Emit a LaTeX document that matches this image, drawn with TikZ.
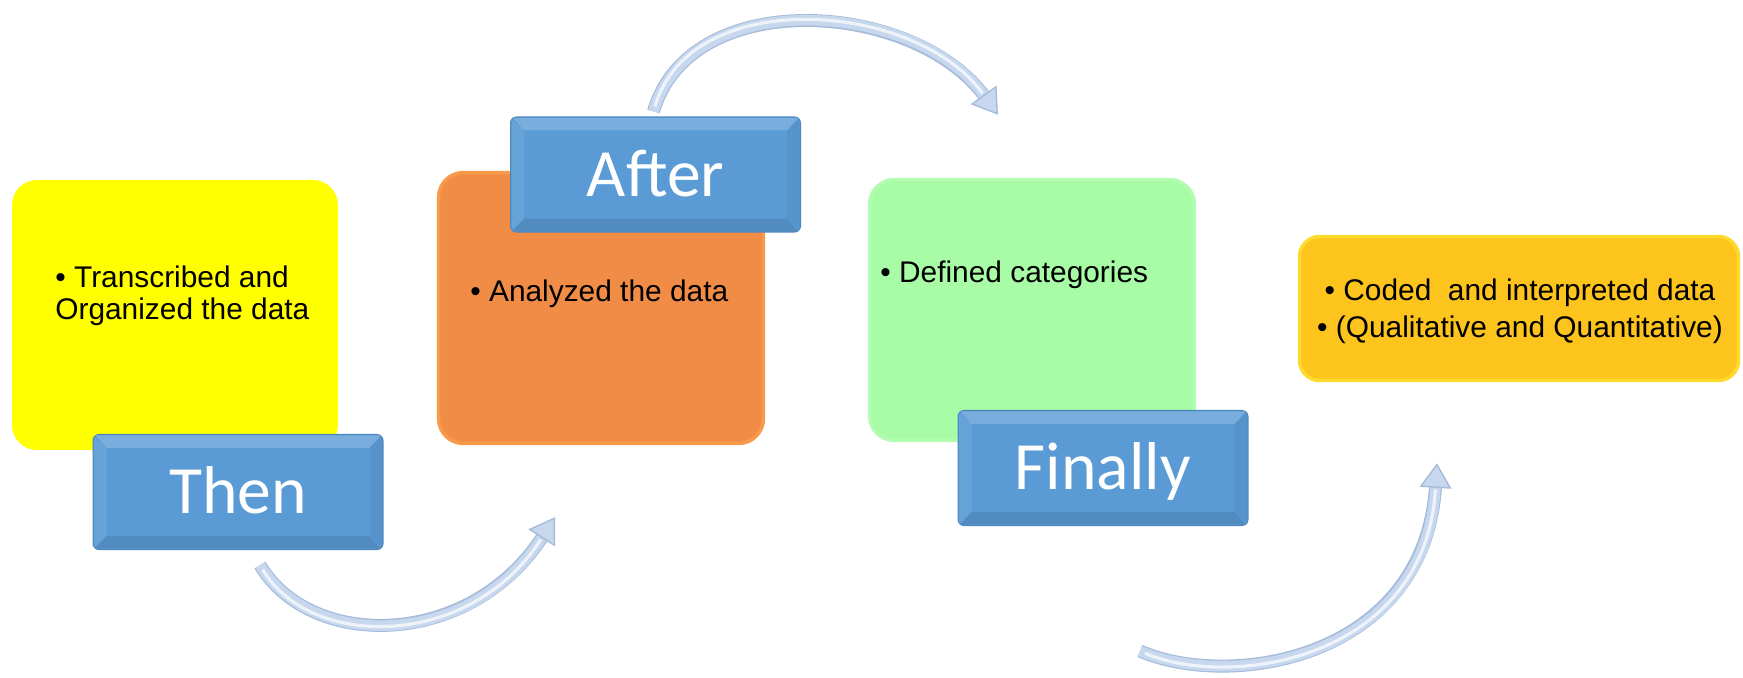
\documentclass[tikz,border=0pt]{standalone}
\usepackage{fontspec}
\setmainfont{Liberation Sans}
\newfontfamily\labelfont{Carlito}
\usetikzlibrary{arrows.meta}

\definecolor{cardyellow}{HTML}{FFFF00}
\definecolor{cardorange}{HTML}{F08C46}
\definecolor{cardorangeedge}{HTML}{F99A4A}
\definecolor{cardgreen}{HTML}{A8FCA6}
\definecolor{cardgreenedge}{HTML}{B2FDB0}
\definecolor{cardgold}{HTML}{FCC41C}
\definecolor{cardgoldedge}{HTML}{FDDA2C}
\definecolor{tagblue}{HTML}{5B9BD5}
\definecolor{tagedge}{HTML}{4D86BE}
\definecolor{flowblue}{HTML}{C6D7EE}
\definecolor{flowedge}{HTML}{A6BCDA}
\definecolor{flowlight}{HTML}{EEF3FA}

\tikzset{
  card/.style={rectangle, rounded corners=0.5cm, inner sep=0pt},
  tagbox/.style={rectangle, rounded corners=0.12cm, fill=tagblue, draw=tagedge,
    line width=0.6pt, minimum width=5.8cm, minimum height=2.3cm, text=white,
    font=\labelfont\fontsize{38.5}{40}\selectfont, text height=0.88cm, text depth=0pt},
  bullets/.style={inner sep=0pt, font=\fontsize{17}{18.2}\selectfont},
  flow/.style={line width=6pt, draw=flowblue,
    -{Triangle[length=14pt, width=18pt, fill=flowblue, color=flowedge, line width=0.8pt]},
    preaction={draw=flowedge, line width=7.4pt, -, shorten >=12pt},
    postaction={draw=flowlight, line width=1.8pt, -, shorten >=15pt, shorten <=3pt}}
}

\begin{document}
\begin{tikzpicture}[x=0.02cm, y=-0.02cm]
  \useasboundingbox (0,0) rectangle (1743,678);

  % Draw the four step cards
  \node[card, fill=cardyellow, minimum width=6.52cm, minimum height=5.4cm] (transcribed) at (175,315) {};
  \node[card, fill=cardorange, draw=cardorangeedge, line width=2pt,
    minimum width=6.5cm, minimum height=5.42cm] (analyzed) at (601,308) {};
  \node[card, fill=cardgreen, draw=cardgreenedge, line width=2pt,
    minimum width=6.5cm, minimum height=5.22cm] (defined) at (1032,310) {};
  \node[card, fill=cardgold, draw=cardgoldedge, line width=2pt, rounded corners=0.4cm,
    minimum width=8.78cm, minimum height=2.88cm] (coded) at (1519,308.5) {};

  % Bullet texts inside the cards
  \node[bullets, anchor=north west, align=left] (txtone) at (55,266) {• Transcribed and\\Organized the data};
  \node[bullets, anchor=base west] (txttwo) at (470,302) {• Analyzed the data};
  \node[bullets, anchor=base west] (txtthree) at (880,283) {• Defined categories};
  \node[bullets, anchor=north, align=center, font=\fontsize{17}{21}\selectfont] (txtfour) at (1520,279)
    {• Coded\ \ and interpreted data\\• (Qualitative and Quantitative)};

  % The blue tags on top of the cards
  \node[tagbox] (then) at (238,492) {Then};
  \node[tagbox] (after) at (655.5,174.5) {After};
  \node[tagbox] (finally) at (1103,468) {Finally};

  % Bevel edges of the tags
  \foreach \lbl in {then,after,finally}{
    \fill[tagblue!82!white] ([shift={(3,1.5)}]\lbl.north west) -- ([shift={(-3,1.5)}]\lbl.north east)
      -- ([shift={(-14,14)}]\lbl.north east) -- ([shift={(14,14)}]\lbl.north west) -- cycle;
    \fill[tagblue!90!black] ([shift={(3,-1.5)}]\lbl.south west) -- ([shift={(-3,-1.5)}]\lbl.south east)
      -- ([shift={(-14,-14)}]\lbl.south east) -- ([shift={(14,-14)}]\lbl.south west) -- cycle;
    \fill[tagblue!92!white] ([shift={(1.5,3)}]\lbl.north west) -- ([shift={(14,14)}]\lbl.north west)
      -- ([shift={(14,-14)}]\lbl.south west) -- ([shift={(1.5,-3)}]\lbl.south west) -- cycle;
    \fill[tagblue!95!black] ([shift={(-1.5,3)}]\lbl.north east) -- ([shift={(-14,14)}]\lbl.north east)
      -- ([shift={(-14,-14)}]\lbl.south east) -- ([shift={(-1.5,-3)}]\lbl.south east) -- cycle;
  }

  % Curved arrows between the steps
  \coordinate (flowonea) at ([shift={(22,15)}]then.south);
  \coordinate (flowoneb) at ([shift={(-46,72)}]analyzed.south);
  \coordinate (flowtwoa) at ([shift={(-2,-5)}]after.north);
  \coordinate (flowtwob) at ([shift={(-34,-63)}]defined.north);
  \coordinate (flowthreea) at ([shift={(37,125)}]finally.south);
  \coordinate (flowthreeb) at ([shift={(-82,81)}]coded.south);

  \draw[flow] (flowonea) .. controls (310,650) and (470,650) .. (flowoneb);
  \draw[flow] (flowtwoa) .. controls (690,-15) and (915,0) .. (flowtwob);
  \draw[flow] (flowthreea) .. controls (1230,690) and (1425,660) .. (flowthreeb);
\end{tikzpicture}
\end{document}
